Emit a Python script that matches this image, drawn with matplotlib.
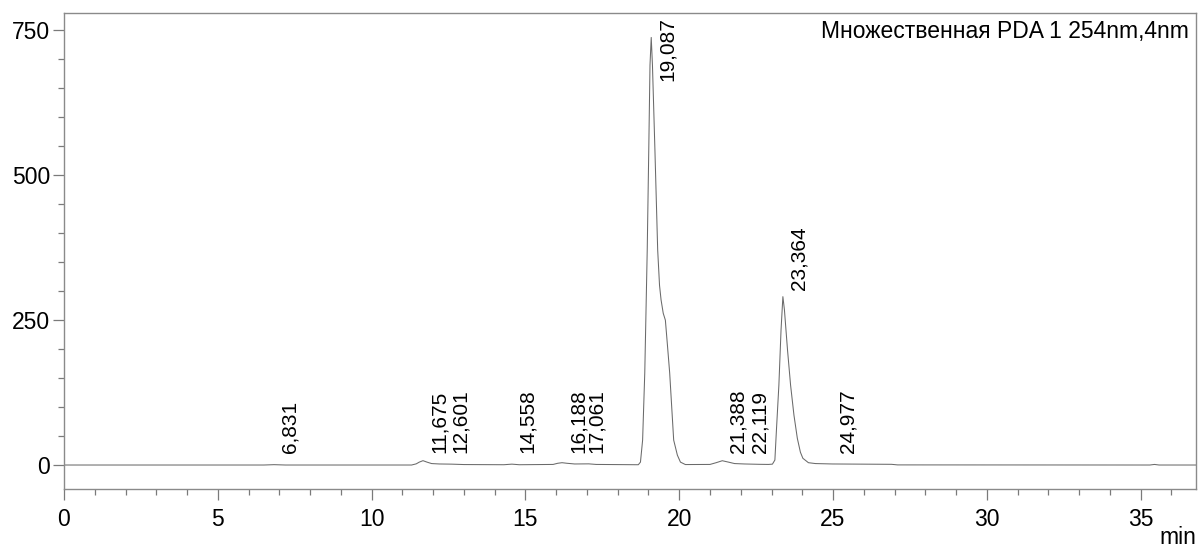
import matplotlib
matplotlib.use("Agg")
import matplotlib.pyplot as plt
from matplotlib.ticker import MultipleLocator

plt.rcParams['font.family'] = ['Liberation Sans', 'DejaVu Sans']

# ---- data ----
time_min = [0.0, 6.5, 6.83, 7.2, 11.3, 11.45, 11.55, 11.67, 11.8, 11.95, 12.2, 12.6,
            13.0, 14.3, 14.56, 14.8, 15.9, 16.05, 16.19, 16.35, 16.6, 17.06, 17.3,
            18.6, 18.67, 18.74, 18.81, 18.88, 18.96, 19.01, 19.05, 19.09, 19.13,
            19.21, 19.30, 19.36, 19.41, 19.48, 19.55, 19.62, 19.69, 19.82, 19.94,
            20.04, 20.2, 21.0, 21.2, 21.4, 21.6, 21.8, 22.12, 22.6, 22.9, 23.03,
            23.11, 23.16, 23.24, 23.31, 23.37, 23.42, 23.52, 23.62, 23.73, 23.84,
            23.94, 24.02, 24.2, 24.43, 24.98, 26.9, 27.1, 35.3, 35.45, 35.6, 36.8]
signal_mau = [0.0, 0.0, 0.6, 0.0, 0.0, 2.0, 5.0, 7.5, 5.0, 2.5, 1.8, 1.5,
              0.8, 0.5, 1.5, 0.5, 1.0, 3.0, 4.0, 3.0, 1.8, 2.0, 1.0,
              0.5, 0.5, 5.0, 43.0, 159.0, 371.0, 544.0, 690.0, 738.0, 690.0,
              544.0, 371.0, 310.0, 285.0, 262.0, 250.0, 205.0, 159.0, 43.0, 17.0,
              5.0, 0.8, 1.0, 4.0, 7.4, 5.0, 2.5, 1.8, 1.2, 1.0, 1.5,
              8.6, 60.0, 138.0, 233.0, 290.6, 268.0, 199.0, 138.0, 86.0, 46.0,
              22.0, 11.6, 4.0, 2.5, 1.8, 1.2, 0.2, 0.0, 1.0, 0.0, 0.0]

peak_rt = [6.831, 11.675, 12.601, 14.558, 16.188, 17.061, 19.087,
           21.388, 22.119, 23.364, 24.977]
peak_height = [0.6, 7.5, 1.5, 1.5, 4.0, 2.0, 738.0, 7.4, 1.5, 290.6, 1.8]
peak_labels = [f"{rt:.3f}".replace('.', ',') for rt in peak_rt]

x_ticks = [0, 5, 10, 15, 20, 25, 30, 35]
y_ticks = [0, 250, 500, 750]
channel_title = "Множественная PDA 1 254nm,4nm"
x_unit = "min"

# ---- layout / style ----
W, H, DPI = 1199, 549, 100
label_dx_px = {12.601: 9, 17.061: 8}   # per-label horizontal nudges (pixels)
default_dx_px = 16

fig = plt.figure(figsize=(W / DPI, H / DPI), dpi=DPI)
ax = fig.add_axes([64 / W, (H - 489) / H, (1196 - 64) / W, (489 - 13) / H])

ax.plot(time_min, signal_mau, color='#6a6a6a', lw=0.75)

ax.set_xlim(0, 36.8)
ax.set_ylim(-41.4, 780.2)
ax.set_xticks(x_ticks)
ax.set_yticks(y_ticks)
ax.xaxis.set_minor_locator(MultipleLocator(1))
ax.yaxis.set_minor_locator(MultipleLocator(50))

for s in ax.spines.values():
    s.set_color('#8a8a8a')
    s.set_linewidth(1.0)

ax.tick_params(which='major', direction='out', length=8, width=0.9, color='#7a7a7a',
               labelsize=16.5, labelcolor='black')
ax.tick_params(which='minor', direction='out', length=4.3, width=0.9, color='#7a7a7a')
ax.tick_params(axis='x', which='major', pad=6)
ax.tick_params(axis='y', which='major', pad=2)

# peak labels
for rt, h, lab in zip(peak_rt, peak_height, peak_labels):
    y_anchor = min(max(h, 8.0), 650.0)
    dx = label_dx_px.get(rt, default_dx_px)
    ax.annotate(lab, xy=(rt, y_anchor), xytext=(dx, 7), textcoords='offset pixels',
                rotation=90, ha='center', va='bottom', fontsize=15, color='black')

ax.text(0.994, 0.985, channel_title, transform=ax.transAxes, ha='right', va='top',
        fontsize=16.5, color='black')

fig.text(1196 / W, 0 / H, x_unit, ha='right', va='bottom', fontsize=16.5, color='black')

fig.savefig('out.png', dpi=DPI)
